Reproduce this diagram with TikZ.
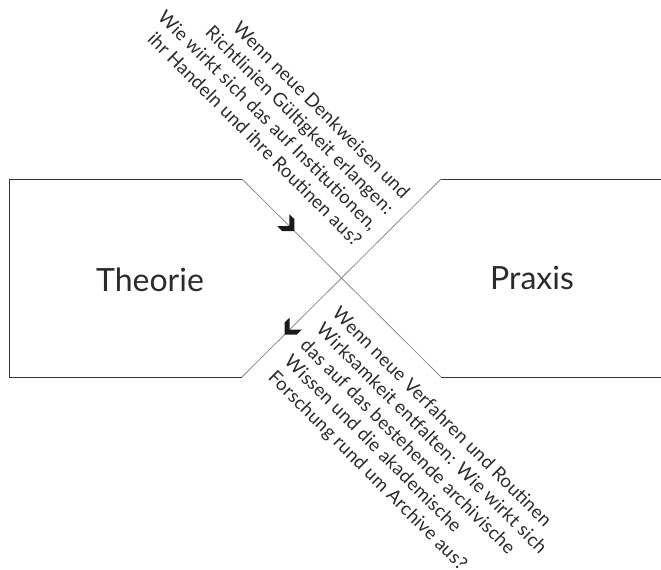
\documentclass[tikz,border=0pt]{standalone}
\usepackage{fontspec}
\setmainfont{Lato}
\usetikzlibrary{arrows.meta,decorations.markings}
\definecolor{edge}{HTML}{333333}
\definecolor{diag}{HTML}{8C8C8C}
\definecolor{ink}{HTML}{2B2B2B}
\newlength\qwa
\newlength\qwb
\begin{document}
\settowidth\qwa{\fontsize{18.6}{22}\selectfont Wenn neue Verfahren und Routinen}%
\settowidth\qwb{\fontsize{18.6}{22}\selectfont\addfontfeature{LetterSpace=10}Wenn neue Verfahren und Routinen}%
\begin{tikzpicture}[x=1pt,y=-1pt,
  frame/.style={draw=edge,line width=0.9pt},
  cross/.style={draw=diag,line width=0.8pt},
  chevron at/.style={postaction=decorate,decoration={markings,
      mark=at position #1 with {\fill[black!90] (0.5,0) -- (-8,-8.5) -- (-15,-8.5) -- (-6.5,0) -- (-15,8.5) -- (-8,8.5) -- cycle;}}},
  biglabel/.style={font=\fontsize{32}{38}\selectfont,text=ink,inner sep=0pt},
  quote/.style={font=\fontsize{18.6}{22.6}\selectfont\addfontfeature{LetterSpace=\qls},text=ink,inner sep=0pt,rotate=-45}]
\useasboundingbox (0,0) rectangle (661,570);
\pgfmathsetmacro\qls{10*(301pt-\qwa)/(\qwb-\qwa)}
% corner points
\coordinate (tl) at (9,179);
\coordinate (bl) at (9,377);
\coordinate (tm) at (242,179);
\coordinate (bm) at (242,377);
\coordinate (tr) at (441,179);
\coordinate (br) at (441,377);
\coordinate (tre) at (661,179);
\coordinate (bre) at (661,377);
% outlines
\draw[frame] (tm) -- (tl) -- (bl) -- (bm);
\draw[frame] (tr) -- (tre);
\draw[frame] (br) -- (bre);
% crossing connectors
\draw[cross,chevron at=0.261] (tm) -- (br);
\draw[cross,chevron at=0.784] (tr) -- (bm);
% labels
\node[biglabel,anchor=base] (theorie) at (150,291) {Theorie};
\node[biglabel,anchor=base] (praxis) at (532,289) {Praxis};
% quotes
\node[quote,align=right,anchor=south east] (q1) at (354,248)
  {Wenn neue Denkweisen und\\Richtlinien Gültigkeit erlangen:\\Wie wirkt sich das auf Institutionen,\\ihr Handeln und ihre Routinen aus?};
\node[quote,align=left,anchor=north west] (q2) at (341,305)
  {Wenn neue Verfahren und Routinen\\Wirksamkeit entfalten: Wie wirkt sich\\das auf das bestehende archivische\\Wissen und die akademische\\Forschung rund um Archive aus?};
\end{tikzpicture}
\end{document}
